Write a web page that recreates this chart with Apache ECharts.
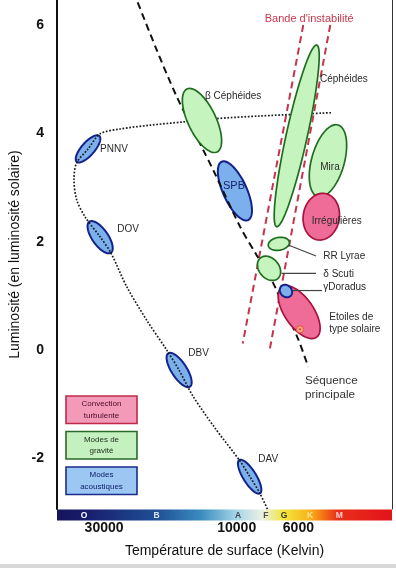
<!DOCTYPE html>
<html><head><meta charset="utf-8">
<script src="https://cdn.jsdelivr.net/npm/echarts@6/dist/echarts.min.js"></script>
<style>html,body{margin:0;padding:0;background:#fff}#c{width:396px;height:568px}</style>
</head><body><div id="c"></div>
<script>
// ---------- data (temperature in K, luminosity in log L/Lsun) ----------
const tempTicks = [30000, 10000, 6000];
const lumTicks = [-2, 0, 2, 4, 6];
const spectralClasses = ['O', 'B', 'A', 'F', 'G', 'K', 'M'];
const spectralTemps = [35400, 19400, 9890, 7850, 6760, 5450, 4280];

const mainSequence = [[23500, 6.61], [19400, 5.54], [16440, 4.68], [13190, 3.69], [12140, 3.32],
  [9730, 2.28], [8475, 1.75], [7385, 1.23], [6660, 0.71], [6000, 0.19], [5530, -0.31]];
const whiteDwarfTrack = [[4580, 4.38], [8245, 4.32], [11970, 4.27], [15610, 4.21], [20510, 4.15],
  [26290, 4.08], [31020, 3.99], [34260, 3.71], [37690, 3.45], [38480, 3.14], [37620, 2.77],
  [35130, 2.46], [31020, 2.09], [28330, 1.79], [24870, 1.17], [21070, 0.55], [17860, 0.00],
  [16130, -0.37], [14330, -0.86], [11970, -1.44], [9730, -2.05], [8958, -2.34], [8245, -2.65],
  [7500, -3.10]];
const instabilityLeft = [[5760, 6.00], [9515, 0.12]];
const instabilityRight = [[4607, 6.00], [7632, -0.03]];

// regions: [name, kind, Tcenter, Lcenter, T end of major axis, L end of major axis, minor/major]
const acousticRegions = [
  ['PNNV', 'blue', 34260, 3.713, 31200, 3.951, 0.38],
  ['DOV', 'blue', 30990, 2.082, 33890, 2.368, 0.42],
  ['SPB', 'blue', 10150, 2.937, 11325, 3.476, 0.37],
  ['DBV', 'blue', 16110, -0.369, 17620, -0.061, 0.38],
  ['DAV', 'blue', 8983, -2.338, 9787, -2.031, 0.33]
];
const gravityRegions = [
  ['β Céphéides', 'green', 13330, 4.237, 15100, 4.818, 0.40],
  ['Céphéides', 'green', 6084, 3.953, 5154, 5.630, 0.113],
  ['Mira', 'green', 4696, 3.492, 4322, 4.154, 0.44],
  ['RR Lyrae', 'green', 7056, 1.960, 6470, 1.994, 0.60],
  ['δ Scuti', 'green', 7651, 1.508, 8225, 1.698, 0.74]
];
const convectionRegions = [
  ['Irrégulières', 'pink', 4963, 2.461, 4813, 2.889, 0.77],
  ['Etoiles de type solaire', 'pink', 5961, 0.698, 6878, 1.161, 0.475],
  ['γ Doradus', 'blue', 6650, 1.089, 6900, 1.181, 0.85]
];
const sunPosition = [5921, 0.382];

const labelNames = ["Bande d'instabilité", 'β Céphéides', 'Céphéides', 'Mira', 'Irrégulières', 'SPB',
  'PNNV', 'DOV', 'DBV', 'DAV', 'RR Lyrae', 'δ Scuti', 'γDoradus', 'Etoiles de\ntype solaire',
  'Séquence\nprincipale'];
const labelPositions = [[5487, 6.116], [13000, 4.680], [5017, 5.003], [4617, 3.378], [5374, 2.381],
  [10225, 3.028], [31020, 3.711], [26880, 2.221], [14940, -0.055], [8361, -2.012], [4880, 1.735],
  [4880, 1.403], [4880, 1.154], [4645, 0.489], [5680, -0.698]];
const leaderLines = [[[6524, 1.938], [5184, 1.735]], [[6889, 1.416], [5184, 1.416]], [[6275, 1.098], [4934, 1.098]]];

const legendNames = ['Convection\nturbulente', 'Modes de\ngravité', 'Modes\nacoustiques'];

// ---------- styles ----------
const FONT = "'Liberation Sans', Arial, sans-serif";
const FILL = { green: '#c6f4bf', pink: '#f06c98', blue: '#7cb0ec' };
const STROKE = { green: '#1f6d1f', pink: '#a8123c', blue: '#13228a' };
const LW = { green: 1.7, pink: 1.7, blue: 2 };
const labelStyle = {
  "Bande d'instabilité": { align: 'center', size: 11, color: '#c8364e' },
  'Mira': { align: 'center' },
  'SPB': { align: 'center', size: 11, color: '#14206e' },
  'Séquence\nprincipale': { size: 11.7, lineHeight: 13.5, color: '#333' },
  'Etoiles de\ntype solaire': { lineHeight: 12 }
};
const letterColors = ['#ffffff', '#d8e4f4', '#3c4650', '#505050', '#3a3a20', '#fbe58a', '#ffd0d0'];

const lg = Math.log10;
const xy = p => [lg(p[0]), p[1]];

function regionSeries(rows, z) {
  return {
    type: 'custom', coordinateSystem: 'cartesian2d', z: z, silent: true,
    data: rows.map(r => [lg(r[2]), r[3], lg(r[4]), r[5], r[6]]),
    renderItem: function (params, api) {
      const kind = rows[params.dataIndex][1];
      const pc = api.coord([api.value(0), api.value(1)]);
      const pe = api.coord([api.value(2), api.value(3)]);
      const dx = pe[0] - pc[0], dy = pe[1] - pc[1];
      const a = Math.hypot(dx, dy), ux = dx / a, uy = dy / a;
      const b = a * api.value(4);
      const pts = [];
      for (let i = 0; i < 90; i++) {
        const t = i / 90 * 2 * Math.PI;
        const ca = a * Math.cos(t), sb = b * Math.sin(t);
        pts.push([pc[0] + ca * ux - sb * uy, pc[1] + ca * uy + sb * ux]);
      }
      return { type: 'polygon', shape: { points: pts },
        style: { fill: FILL[kind], stroke: STROKE[kind], lineWidth: LW[kind] } };
    }
  };
}

function lineSeries(data, color, width, dash, smooth, z) {
  return { type: 'line', data: data.map(xy), showSymbol: false, symbol: 'none', smooth: smooth,
    silent: true, z: z, lineStyle: { color: color, width: width, type: dash } };
}

function nearestIdx(arr, v) {
  let best = 0, bd = Infinity;
  arr.forEach((t, i) => { const d = Math.abs(lg(t) - v); if (d < bd) { bd = d; best = i; } });
  return best;
}

const chart = echarts.init(document.getElementById('c'), null, { renderer: 'canvas' });
const xMin = 3.4414, xMax = 4.6464, yMin = -2.935, yMax = 6.461;

const legendGraphics = [];
const legendKinds = ['pink', 'green', 'blue'];
const legendFill = { pink: '#f49ab9', green: '#c5f0bf', blue: '#9cc7f3' };
const legendStroke = { pink: '#c02a4a', green: '#2a6a2a', blue: '#1a2c8c' };
const legendText = { pink: '#4a0a26', green: '#1e2e1e', blue: '#10206a' };
legendNames.forEach((n, i) => {
  const k = legendKinds[i];
  const top = 396 + i * 35.5;
  legendGraphics.push({ type: 'rect', shape: { x: 66, y: top, width: 71, height: 27.5 },
    style: { fill: legendFill[k], stroke: legendStroke[k], lineWidth: 1.6 }, z: 20 });
  legendGraphics.push({ type: 'text', x: 101.5, y: top + 13.8, z: 21,
    style: { text: n, fill: legendText[k], font: '8px ' + FONT, align: 'center', verticalAlign: 'middle', lineHeight: 11.5 } });
});

chart.setOption({
  animation: false,
  backgroundColor: '#ffffff',
  grid: { left: 57, right: 4, top: 0, bottom: 59, containLabel: false, outerBoundsMode: 'none' },
  xAxis: [{
    type: 'value', min: xMin, max: xMax, inverse: true, position: 'bottom',
    axisLine: { show: false }, axisTick: { show: false }, splitLine: { show: false },
    axisLabel: { customValues: tempTicks.map(lg), formatter: v => String(tempTicks[nearestIdx(tempTicks, v)]),
      fontSize: 14, fontWeight: 'bold', color: '#111', fontFamily: FONT, margin: 12, hideOverlap: false },
    name: 'Température de surface (Kelvin)', nameLocation: 'middle', nameGap: 35, nameMoveOverlap: false,
    nameTextStyle: { fontSize: 14, color: '#111', fontFamily: FONT }
  }, {
    type: 'value', min: xMin, max: xMax, inverse: true, position: 'bottom', offset: 0, z: 5,
    axisLine: { show: false }, axisTick: { show: false }, splitLine: { show: false },
    axisLabel: { customValues: spectralTemps.map(lg),
      formatter: v => spectralClasses[nearestIdx(spectralTemps, v)],
      color: v => letterColors[nearestIdx(spectralTemps, parseFloat(v))],
      fontSize: 8.5, fontWeight: 'bold', fontFamily: FONT, margin: 6.5, verticalAlign: 'middle', hideOverlap: false }
  }],
  yAxis: [{
    type: 'value', min: yMin, max: yMax,
    axisLine: { show: true, lineStyle: { color: '#111', width: 2 } }, axisTick: { show: false }, splitLine: { show: false },
    axisLabel: { customValues: lumTicks, fontSize: 14, fontWeight: 'bold', color: '#111', fontFamily: FONT, margin: 13, hideOverlap: false },
    name: 'Luminosité (en luminosité solaire)', nameLocation: 'middle', nameGap: 35, nameMoveOverlap: false,
    nameTextStyle: { fontSize: 14, color: '#111', fontFamily: FONT }
  }, {
    type: 'value', min: yMin, max: yMax, position: 'right',
    axisLine: { show: true, lineStyle: { color: '#333', width: 1 } }, axisTick: { show: false },
    splitLine: { show: false }, axisLabel: { show: false }
  }],
  graphic: [
    { type: 'rect', z: 1, shape: { x: 57, y: 509.5, width: 335, height: 11 },
      style: { fill: { type: 'linear', x: 0, y: 0, x2: 1, y2: 0, colorStops: [
        { offset: 0, color: '#15155a' }, { offset: 0.08, color: '#181b6c' }, { offset: 0.30, color: '#1f5096' },
        { offset: 0.43, color: '#3a8cbf' }, { offset: 0.54, color: '#a9d8e6' }, { offset: 0.61, color: '#e9f0e6' },
        { offset: 0.678, color: '#f3e43c' }, { offset: 0.755, color: '#f7b21c' }, { offset: 0.79, color: '#f47a14' },
        { offset: 0.836, color: '#e8301a' }, { offset: 1, color: '#e3121a' }] } } },
    { type: 'rect', z: 1, shape: { x: 0, y: 564, width: 396, height: 4 }, style: { fill: '#d8d8d8' } }
  ].concat(legendGraphics),
  series: [
    regionSeries(acousticRegions, 1),
    lineSeries(instabilityLeft, '#c4344c', 2, [7, 4.5], false, 2),
    lineSeries(instabilityRight, '#c4344c', 2, [7, 4.5], false, 2),
    lineSeries(whiteDwarfTrack, '#1a1a1a', 1.7, [1.7, 1.7], 0.3, 2),
    lineSeries(mainSequence, '#111', 2, [7, 4.5], 0.3, 2),
    regionSeries(gravityRegions.concat(convectionRegions), 3),
    {
      type: 'custom', coordinateSystem: 'cartesian2d', z: 4, silent: true,
      data: [xy(sunPosition)],
      renderItem: function (params, api) {
        const p = api.coord([api.value(0), api.value(1)]);
        return { type: 'group', children: [
          { type: 'circle', shape: { cx: p[0], cy: p[1], r: 3.6 }, style: { fill: '#f7a28a', stroke: '#e0582e', lineWidth: 1 } },
          { type: 'circle', shape: { cx: p[0], cy: p[1], r: 1 }, style: { fill: '#d8401e' } }
        ] };
      }
    },
    {
      type: 'custom', coordinateSystem: 'cartesian2d', z: 4, silent: true,
      data: leaderLines.map(l => [lg(l[0][0]), l[0][1], lg(l[1][0]), l[1][1]]),
      renderItem: function (params, api) {
        const p1 = api.coord([api.value(0), api.value(1)]);
        const p2 = api.coord([api.value(2), api.value(3)]);
        return { type: 'line', shape: { x1: p1[0], y1: p1[1], x2: p2[0], y2: p2[1] },
          style: { stroke: '#444', lineWidth: 1.2 } };
      }
    },
    {
      type: 'custom', coordinateSystem: 'cartesian2d', z: 5, silent: true,
      data: labelPositions.map(xy),
      renderItem: function (params, api) {
        const name = labelNames[params.dataIndex];
        const st = labelStyle[name] || {};
        const p = api.coord([api.value(0), api.value(1)]);
        return { type: 'text', x: p[0], y: p[1],
          style: { text: name, fill: st.color || '#2a2a2a', font: (st.size || 10) + 'px ' + FONT,
            align: st.align || 'left', verticalAlign: 'middle', lineHeight: st.lineHeight || 12 } };
      }
    }
  ]
});
</script></body></html>
